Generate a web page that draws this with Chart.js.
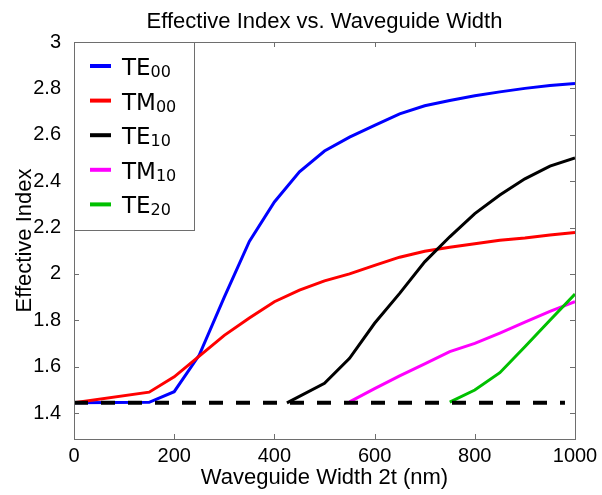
<!DOCTYPE html>
<html>
<head>
<meta charset="utf-8">
<script src="https://cdn.jsdelivr.net/npm/chart.js@4.4.0/dist/chart.umd.min.js"></script>
<style>
    html, body { margin: 0; padding: 0; background: #fff; }
    #wrap { width: 602px; height: 495px; }
</style>
</head>
<body>
<div id="wrap"><canvas id="chart"></canvas></div>
<script>
// Data
var widthTE00 = [0, 150, 200, 250, 300, 350, 400, 450, 500, 550, 600, 650, 700, 750, 800, 850, 900, 950, 1000];
var indexTE00 = [1.444, 1.446, 1.492, 1.65, 1.90, 2.14, 2.31, 2.44, 2.53, 2.59, 2.64, 2.69, 2.725, 2.748, 2.768, 2.785, 2.80, 2.812, 2.821];

var widthTM00 = [0, 150, 200, 250, 300, 350, 400, 450, 500, 550, 600, 650, 700, 750, 800, 850, 900, 950, 1000];
var indexTM00 = [1.444, 1.49, 1.556, 1.645, 1.735, 1.81, 1.88, 1.93, 1.97, 2.00, 2.037, 2.072, 2.098, 2.115, 2.13, 2.145, 2.155, 2.168, 2.178];

var widthTE10 = [425, 500, 550, 600, 650, 700, 750, 800, 850, 900, 950, 1000];
var indexTE10 = [1.444, 1.528, 1.636, 1.787, 1.916, 2.052, 2.16, 2.26, 2.34, 2.41, 2.465, 2.50];

var widthTM10 = [550, 600, 650, 700, 750, 800, 850, 900, 950, 1000];
var indexTM10 = [1.448, 1.505, 1.56, 1.612, 1.665, 1.70, 1.745, 1.792, 1.838, 1.88];

var widthTE20 = [750, 800, 850, 900, 950, 1000];
var indexTE20 = [1.447, 1.499, 1.574, 1.686, 1.80, 1.913];

// cladding index (dashed line)
var widthClad = [0, 980];
var indexClad = [1.444, 1.444];

var modeNames = ['TE', 'TM', 'TE', 'TM', 'TE'];
var modeOrders = ['00', '00', '10', '10', '20'];
var modeColors = ['#0000ff', '#ff0000', '#000000', '#ff00ff', '#00c000'];

var xTicks = [0, 200, 400, 600, 800, 1000];
var yTicks = [1.4, 1.6, 1.8, 2.0, 2.2, 2.4, 2.6, 2.8, 3.0];

function toPoints(xs, ys) {
    return xs.map(function (x, i) { return { x: x, y: ys[i] }; });
}

function modeSet(i, xs, ys) {
    return {
        label: modeNames[i] + modeOrders[i],
        data: toPoints(xs, ys),
        borderColor: modeColors[i],
        borderWidth: 3,
        pointRadius: 0,
        showLine: true,
        tension: 0,
        order: 5 - i
    };
}

// frame, inner ticks, title and legend (MATLAB style)
var matlabLook = {
    id: 'matlabLook',
    afterDraw: function (chart) {
        var ctx = chart.ctx;
        var a = chart.chartArea;
        var xs = chart.scales.x, ys = chart.scales.y;
        ctx.save();
        ctx.strokeStyle = '#6e6e6e';
        ctx.lineWidth = 1;
        ctx.strokeRect(a.left + 0.5, a.top + 0.5, a.right - a.left, a.bottom - a.top);
        ctx.beginPath();
        xTicks.forEach(function (v) {
            var px = Math.round(xs.getPixelForValue(v)) + 0.5;
            ctx.moveTo(px, a.bottom); ctx.lineTo(px, a.bottom - 5);
            ctx.moveTo(px, a.top); ctx.lineTo(px, a.top + 5);
        });
        yTicks.forEach(function (v) {
            var py = Math.round(ys.getPixelForValue(v)) + 0.5;
            ctx.moveTo(a.left, py); ctx.lineTo(a.left + 5, py);
            ctx.moveTo(a.right, py); ctx.lineTo(a.right - 5, py);
        });
        ctx.stroke();

        // title
        ctx.fillStyle = '#000';
        ctx.font = '22px "Liberation Sans", Arial, sans-serif';
        ctx.textAlign = 'center';
        ctx.textBaseline = 'alphabetic';
        ctx.fillText('Effective Index vs. Waveguide Width', (a.left + a.right) / 2, 28);

        // legend box
        ctx.fillStyle = '#fff';
        ctx.fillRect(a.left, a.top, 120, 188);
        ctx.strokeStyle = '#6e6e6e';
        ctx.strokeRect(a.left + 0.5, a.top + 0.5, 120, 188);
        ctx.textAlign = 'left';
        for (var i = 0; i < modeNames.length; i++) {
            var y = 66 + i * 34.6;
            ctx.strokeStyle = modeColors[i];
            ctx.lineWidth = 4;
            ctx.beginPath();
            ctx.moveTo(90, y); ctx.lineTo(111, y);
            ctx.stroke();
            ctx.fillStyle = '#000';
            ctx.font = '23px "DejaVu Sans", sans-serif';
            ctx.fillText(modeNames[i], 122, y + 9);
            var w = ctx.measureText(modeNames[i]).width;
            ctx.font = '16px "DejaVu Sans", sans-serif';
            ctx.fillText(modeOrders[i], 122 + w, y + 11);
        }
        ctx.restore();
    }
};

var ctx = document.getElementById('chart').getContext('2d');
new Chart(ctx, {
    type: 'scatter',
    data: {
        datasets: [
            {
                label: 'cladding',
                data: toPoints(widthClad, indexClad),
                borderColor: '#000',
                borderWidth: 4,
                borderDash: [14, 13],
                pointRadius: 0,
                showLine: true,
                order: 0
            },
            modeSet(0, widthTE00, indexTE00),
            modeSet(1, widthTM00, indexTM00),
            modeSet(2, widthTE10, indexTE10),
            modeSet(3, widthTM10, indexTM10),
            modeSet(4, widthTE20, indexTE20)
        ]
    },
    options: {
        responsive: true,
        maintainAspectRatio: false,
        animation: false,
        layout: { padding: { top: 42, right: 27, left: 0, bottom: 0 } },
        plugins: {
            legend: { display: false },
            tooltip: { enabled: false }
        },
        scales: {
            x: {
                type: 'linear',
                min: 0,
                max: 1000,
                afterBuildTicks: function (s) { s.ticks = xTicks.map(function (v) { return { value: v }; }); },
                afterFit: function (s) { s.height = 56; },
                grid: { display: false },
                border: { display: false },
                ticks: {
                    color: '#000',
                    padding: -3,
                    maxRotation: 0,
                    font: { family: '"Liberation Sans", Arial, sans-serif', size: 20 },
                    callback: function (v) { return String(v); }
                },
                title: {
                    display: true,
                    text: 'Waveguide Width 2t (nm)',
                    color: '#000',
                    padding: { top: 0, bottom: 4 },
                    font: { family: '"Liberation Sans", Arial, sans-serif', size: 22 }
                }
            },
            y: {
                min: 1.288,
                max: 3,
                afterBuildTicks: function (s) { s.ticks = yTicks.map(function (v) { return { value: v }; }); },
                afterFit: function (s) { s.width = 74; },
                grid: { display: false },
                border: { display: false },
                ticks: {
                    color: '#000',
                    padding: 5,
                    font: { family: '"Liberation Sans", Arial, sans-serif', size: 20 },
                    callback: function (v) { return String(Number(v.toFixed(1))); }
                },
                title: {
                    display: true,
                    text: 'Effective Index',
                    color: '#000',
                    padding: { top: 12, bottom: 0 },
                    font: { family: '"Liberation Sans", Arial, sans-serif', size: 22 }
                }
            }
        }
    },
    plugins: [matlabLook]
});
</script>
</body>
</html>
